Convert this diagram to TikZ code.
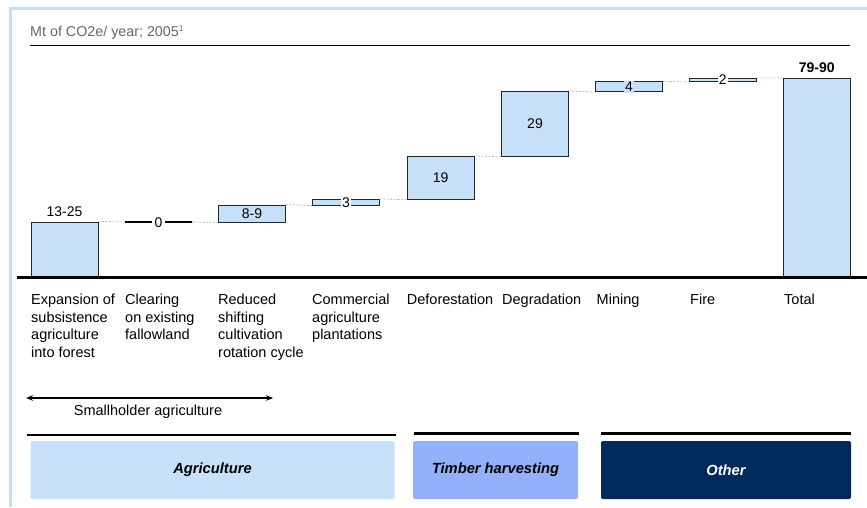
\documentclass[tikz,border=0pt]{standalone}
\usepackage{fontspec}
\setmainfont{Liberation Sans}
\usetikzlibrary{arrows.meta}
\definecolor{framecol}{HTML}{C8DCF6}
\definecolor{barfill}{HTML}{C6E0FA}
\definecolor{agrifill}{HTML}{C8E0FA}
\definecolor{timberfill}{HTML}{93B0FA}
\definecolor{otherfill}{HTML}{002A5C}
\definecolor{titlegray}{HTML}{666666}
\tikzset{
  lbl/.style={font=\fontsize{14.5}{17.5}\selectfont, inner sep=0pt},
  bar/.style={draw=black!85, line width=0.9pt, fill=barfill, inner sep=0pt, minimum width=67pt},
  val/.style={font=\fontsize{14}{16}\selectfont, inner sep=0pt},
  valbg/.style={font=\fontsize{14}{16}\selectfont, inner sep=1.2pt, fill=white},
  cat/.style={font=\fontsize{14.5}{17.5}\selectfont, inner sep=0pt, anchor=north west, align=left},
  link/.style={gray!70, line width=0.6pt, dash pattern=on 2pt off 1.5pt},
  catbox/.style={rounded corners=2pt, inner sep=0pt, minimum height=58pt,
    font=\fontsize{14.7}{16}\selectfont\bfseries\itshape},
}
\begin{document}
\begin{tikzpicture}[x=1pt,y=-1pt]
\useasboundingbox (0,0) rectangle (867,507);
% frame
\draw[framecol, line width=3pt] (10,507) -- (10,8) -- (867,8);
% title
\node[font=\fontsize{14.3}{16}\selectfont, text=titlegray, anchor=base west, inner sep=0pt] (title) at (30,36.7) {Mt of CO2e/ year; 2005\raisebox{5pt}{\fontsize{8.5}{9}\selectfont 1}};
\coordinate (tl1) at (30,45.5);
\coordinate (tl2) at (850,45.5);
\draw[line width=1.6pt] (tl1) -- (tl2);
% axis
\coordinate (ax1) at (17,277.5);
\coordinate (ax2) at (867,277.5);
% bars
\node[bar, minimum height=55pt] (b1) at (64.5,249.5) {};
\coordinate (c2a) at (125,222);
\coordinate (c2b) at (192,222);
\node[bar, minimum height=17pt] (b3) at (252,213.5) {};
\node[bar, minimum height=5.7pt] (b4) at (346,202.2) {};
\node[bar, minimum height=43pt] (b5) at (440.7,177.8) {};
\node[bar, minimum height=65pt] (b6) at (535,123.8) {};
\node[bar, minimum height=10pt] (b7) at (629,86.7) {};
\node[bar, minimum height=3.4pt] (b8) at (722.7,80) {};
\node[bar, minimum height=198.7pt] (b9) at (816.7,177.7) {};
\draw[line width=2.6pt] (ax1) -- (ax2);
% dashed links
\draw[link] (b1.north east) -- (c2a);
\draw[link] (c2b) -- (b3.south west);
\draw[link] (b3.north east) -- (b4.south west);
\draw[link] (b4.north east) -- (b5.south west);
\draw[link] (b5.north east) -- (b6.south west);
\draw[link] (b6.north east) -- (b7.south west);
\draw[link] (b7.north east) -- (b8.south west);
\draw[link] (b8.north east) -- (b9.north west);
% clearing line
\draw[line width=1.5pt] (c2a) -- (c2b);
% values
\node[val] (v1) at (64.5,212) {13-25};
\node[valbg, inner xsep=2.5pt] (v2) at (158.5,222.5) {0};
\node[val] (v3) at (b3.center) {8-9};
\node[valbg] (v4) at (346,202.5) {3};
\node[val] (v5) at (b5.center) {19};
\node[val] (v6) at (b6.center) {29};
\node[valbg, fill=barfill] (v7) at (629,87) {4};
\node[valbg] (v8) at (722.7,80) {2};
\node[val, font=\fontsize{14}{16}\selectfont\bfseries] (v9) at (816.7,68) {79-90};
% categories
\node[cat] (k1) at (31,294.2) {Expansion of\\subsistence\\agriculture\\into forest};
\node[cat] (k2) at (125,294.2) {Clearing\\on existing\\fallowland};
\node[cat] (k3) at (218,294.2) {Reduced\\shifting\\cultivation\\rotation cycle};
\node[cat] (k4) at (312,294.2) {Commercial\\agriculture\\plantations};
\node[cat] (k5) at (406.7,294.2) {Deforestation};
\node[cat] (k6) at (502,294.2) {Degradation};
\node[cat] (k7) at (596.5,294.2) {Mining};
\node[cat] (k8) at (690,294.2) {Fire};
\node[cat] (k9) at (784,294.2) {Total};
% smallholder arrow
\coordinate (sa) at (26,398);
\coordinate (sb) at (273,398);
\draw[line width=1.2pt, {Stealth[length=7pt,width=5.5pt]}-{Stealth[length=7pt,width=5.5pt]}] (sa) -- (sb);
\node[lbl] (small) at (148,411.5) {Smallholder agriculture};
% group lines
\coordinate (g1a) at (27,435); \coordinate (g1b) at (396,435);
\coordinate (g2a) at (414,433.5); \coordinate (g2b) at (579,433.5);
\coordinate (g3a) at (601,433.5); \coordinate (g3b) at (851,433.5);
\draw[line width=1.2pt] (g1a) -- (g1b);
\draw[line width=2.6pt] (g2a) -- (g2b);
\draw[line width=2.6pt] (g3a) -- (g3b);
% group boxes
\node[catbox, fill=agrifill, minimum width=364pt] (agri) at (212.5,470) {Agriculture};
\node[catbox, fill=timberfill, minimum width=165pt] (timber) at (495.5,470) {Timber harvesting};
\node[catbox, fill=otherfill, text=white, minimum width=250pt] (other) at (726,470) {Other};
\end{tikzpicture}
\end{document}
